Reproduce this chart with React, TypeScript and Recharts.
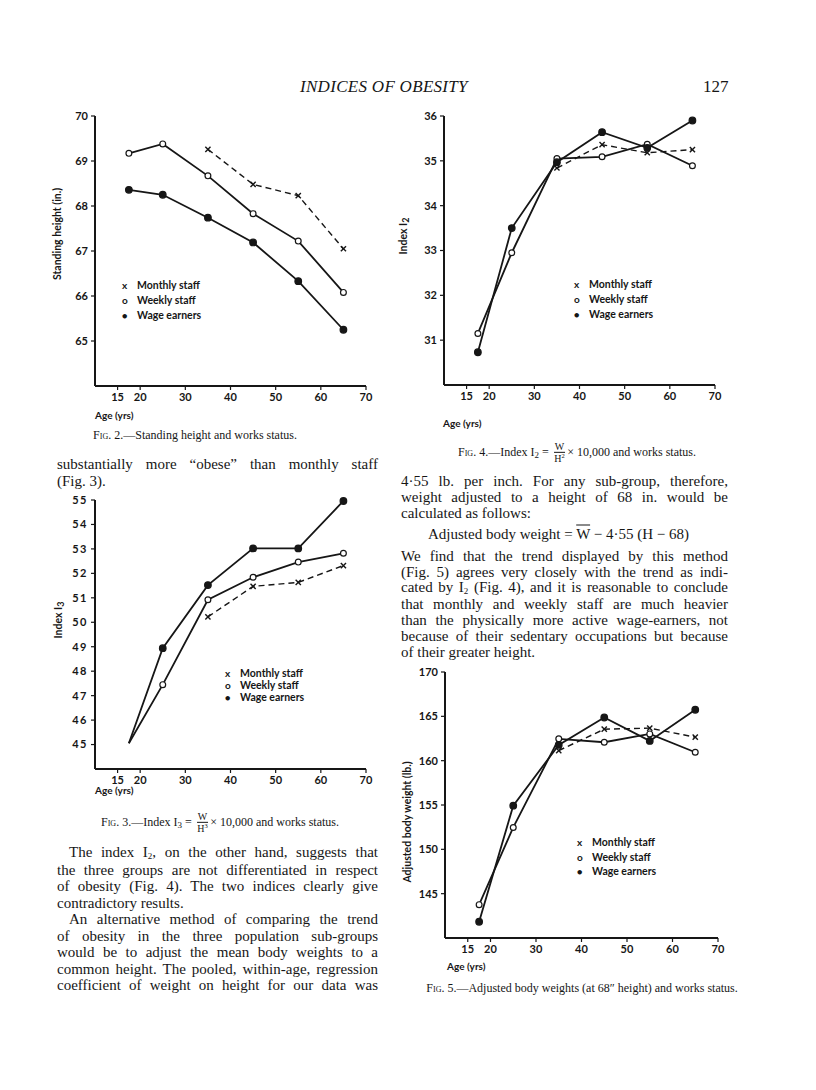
import React from 'react'
import { LineChart, Line, XAxis, YAxis } from 'recharts'

// ages (mid-points of age groups)
const ages = [17.5, 25, 35, 45, 55, 65]
const ageTicks = [15, 20, 30, 40, 50, 60, 70]

// Fig 2 – standing height (in.)
const heightMonthly = [null, null, 69.26, 68.48, 68.23, 67.05]
const heightWeekly = [69.17, 69.38, 68.67, 67.83, 67.22, 66.08]
const heightWage = [68.36, 68.25, 67.74, 67.19, 66.33, 65.25]
const heightTicks = [65, 66, 67, 68, 69, 70]

// Fig 3 – index I3
const i3Monthly = [null, null, 50.22, 51.47, 51.63, 52.32]
const i3Weekly = [45.05, 47.45, 50.92, 51.84, 52.46, 52.82]
const i3Wage = [45.05, 48.94, 51.52, 53.02, 53.02, 54.96]
const i3Ticks = [45, 46, 47, 48, 49, 50, 51, 52, 53, 54, 55]

// Fig 4 – index I2
const i2Monthly = [null, null, 34.84, 35.36, 35.18, 35.25]
const i2Weekly = [31.15, 32.95, 35.05, 35.09, 35.37, 34.89]
const i2Wage = [30.73, 33.5, 34.97, 35.64, 35.29, 35.9]
const i2Ticks = [31, 32, 33, 34, 35, 36]

// Fig 5 – adjusted body weight (lb.)
const wtMonthly = [null, null, 161.14, 163.55, 163.67, 162.65]
const wtWeekly = [143.76, 152.47, 162.46, 162.08, 163.02, 160.95]
const wtWage = [141.83, 154.92, 161.78, 164.87, 162.23, 165.74]
const wtTicks = [145, 150, 155, 160, 165, 170]

const INK = '#161616'
const SERIF = '"Liberation Serif", "DejaVu Serif", serif'
const SANS = 'Lato, "DejaVu Sans", sans-serif'
const BODY = 15

function rows(m: (number | null)[], w: number[], g: number[]) {
  return ages.map((age, i) => ({ age, monthly: m[i], weekly: w[i], wage: g[i] }))
}

const crossDot = (p: any) => {
  const { cx, cy, value, index } = p
  if (value == null || cx == null) return <g key={'x' + index} />
  return (
    <g key={'x' + index}>
      <line x1={cx - 2.6} y1={cy - 2.6} x2={cx + 2.6} y2={cy + 2.6} stroke={INK} strokeWidth={1.4} />
      <line x1={cx - 2.6} y1={cy + 2.6} x2={cx + 2.6} y2={cy - 2.6} stroke={INK} strokeWidth={1.4} />
    </g>
  )
}

function circleDot(filled: boolean, hideFirst: boolean) {
  return (p: any) => {
    const { cx, cy, index } = p
    if (cx == null || (hideFirst && index === 0)) return <g key={'c' + index} />
    return (
      <circle key={'c' + index} cx={cx} cy={cy} r={filled ? 3.3 : 2.9}
        fill={filled ? INK : '#fff'} stroke={INK} strokeWidth={1.2} />
    )
  }
}

interface FigProps {
  x0: number
  y0: number
  w: number
  h: number
  yDomain: [number, number]
  yTicks: number[]
  data: any[]
  hideFirst?: boolean
  spaced?: boolean
}

function Fig({ x0, y0, w, h, yDomain, yTicks, data, hideFirst = false, spaced = false }: FigProps) {
  const tick = { fontSize: 11, fill: INK, fontFamily: SANS, fontWeight: 700, letterSpacing: spaced ? 1.5 : 0 }
  return (
    <div style={{ position: 'absolute', left: x0 - 60, top: y0 - 10 }}>
      <LineChart width={w + 80} height={h + 40} data={data}
        margin={{ top: 10, right: 20, bottom: 0, left: 0 }}>
        <XAxis dataKey="age" type="number" domain={[10, 70]} ticks={ageTicks} height={30}
          axisLine={{ stroke: INK, strokeWidth: 2 }} tickLine={{ stroke: INK, strokeWidth: 1.2 }}
          tickSize={4} tickMargin={3} tick={{ ...tick, letterSpacing: 0 }} interval={0} />
        <YAxis type="number" domain={yDomain} ticks={yTicks} width={60} interval={0}
          axisLine={{ stroke: INK, strokeWidth: 2 }} tickLine={{ stroke: INK, strokeWidth: 1.2 }}
          tickSize={4} tickMargin={3} tick={tick} />
        <Line dataKey="monthly" stroke={INK} strokeWidth={1.4} strokeDasharray="6 4"
          dot={crossDot} isAnimationActive={false} connectNulls={false} />
        <Line dataKey="weekly" stroke={INK} strokeWidth={1.8}
          dot={circleDot(false, hideFirst)} isAnimationActive={false} />
        <Line dataKey="wage" stroke={INK} strokeWidth={1.8}
          dot={circleDot(true, hideFirst)} isAnimationActive={false} />
      </LineChart>
    </div>
  )
}

function At({ x, y, children, style }: { x: number; y: number; children: React.ReactNode; style?: React.CSSProperties }) {
  return (
    <div style={{ position: 'absolute', left: x, top: y, transform: 'translateY(-50%)', whiteSpace: 'nowrap', lineHeight: 1, ...style }}>
      {children}
    </div>
  )
}

function Legend({ x, y, gap = 15 }: { x: number; y: number; gap?: number }) {
  const items = [
    { mark: 'x', label: 'Monthly staff' },
    { mark: 'o', label: 'Weekly staff' },
    { mark: '●', label: 'Wage earners' },
  ]
  return (
    <>
      {items.map((it, i) => (
        <React.Fragment key={it.label}>
          <At x={x - 4} y={y + i * gap} style={{ fontFamily: SANS, fontSize: it.mark === '●' ? 9 : 10, fontWeight: 700, color: INK }}>{it.mark}</At>
          <At x={x + 11} y={y + i * gap} style={{ fontFamily: SANS, fontSize: 10.5, fontWeight: 700, color: INK }}>{it.label}</At>
        </React.Fragment>
      ))}
    </>
  )
}

function YLabel({ x, y, children }: { x: number; y: number; children: React.ReactNode }) {
  return (
    <div style={{ position: 'absolute', left: x, top: y, transform: 'translate(-50%, -50%) rotate(-90deg)', whiteSpace: 'nowrap', lineHeight: 1, fontFamily: SANS, fontSize: 10.5, fontWeight: 700, color: INK }}>
      {children}
    </div>
  )
}

const AgeLabel = ({ x, y }: { x: number; y: number }) => (
  <At x={x} y={y} style={{ fontFamily: SANS, fontSize: 10, fontWeight: 700, color: INK }}>Age (yrs)</At>
)

const Frac = ({ pow }: { pow: string }) => (
  <span style={{ display: 'inline-flex', flexDirection: 'column', alignItems: 'center', verticalAlign: 'middle', fontSize: 10, lineHeight: 1, margin: '0 2px' }}>
    <span style={{ borderBottom: `1px solid ${INK}`, padding: '0 1px' }}>W</span>
    <span>H<sup style={{ fontSize: 6.5 }}>{pow}</sup></span>
  </span>
)

const Caption = ({ x, y, fig, children }: { x: number; y: number; fig: string; children: React.ReactNode }) => (
  <At x={x} y={y} style={{ fontFamily: SERIF, fontSize: 12, color: INK, transform: 'translate(-50%, -50%)' }}>
    <span style={{ fontVariant: 'small-caps' }}>Fig.</span> {fig}.—{children}
  </At>
)

function Para({ x, w, lines }: { x: number; w: number; lines: { y: number; t: React.ReactNode; last?: boolean; indent?: number }[] }) {
  return (
    <>
      {lines.map((l, i) => (
        <div key={i} style={{
          position: 'absolute', left: x + (l.indent ?? 0), top: l.y, width: w - (l.indent ?? 0),
          transform: 'translateY(-50%)', fontFamily: SERIF, fontSize: BODY, lineHeight: 1, color: INK,
          textAlign: 'justify', textAlignLast: l.last ? 'left' : 'justify', whiteSpace: 'nowrap',
        }}>{l.t}</div>
      ))}
    </>
  )
}

const sub = (s: string) => <sub style={{ fontSize: 9, verticalAlign: -2 }}>{s}</sub>

export default function App() {
  return (
    <div style={{ position: 'absolute', left: 0, top: 0, width: 816, height: 1090, background: '#fff', overflow: 'hidden' }}>
      <At x={300} y={86} style={{ fontFamily: SERIF, fontStyle: 'italic', fontSize: 17, color: INK, letterSpacing: 0.3 }}>INDICES OF OBESITY</At>
      <At x={703} y={86} style={{ fontFamily: SERIF, fontSize: 17, color: INK }}>127</At>

      {/* Fig. 2 */}
      <Fig x0={95} y0={116} w={271} h={270} yDomain={[64, 70]} yTicks={heightTicks}
        data={rows(heightMonthly, heightWeekly, heightWage)} />
      <Legend x={126} y={285} />
      <YLabel x={57} y={234}>Standing height (in.)</YLabel>
      <AgeLabel x={95} y={415} />
      <Caption x={195} y={435} fig="2">Standing height and works status.</Caption>

      {/* Fig. 4 */}
      <Fig x0={444} y0={116} w={271} h={269} yDomain={[30, 36]} yTicks={i2Ticks}
        data={rows(i2Monthly, i2Weekly, i2Wage)} />
      <Legend x={578} y={284} />
      <YLabel x={404} y={236}>Index I{sub('2')}</YLabel>
      <AgeLabel x={443} y={423} />
      <Caption x={577} y={453} fig="4">Index I{sub('2')} = <Frac pow="2" />× 10,000 and works status.</Caption>

      {/* Fig. 3 */}
      <Fig x0={95} y0={500} w={271} h={269} yDomain={[44, 55]} yTicks={i3Ticks}
        data={rows(i3Monthly, i3Weekly, i3Wage)} hideFirst spaced />
      <Legend x={229} y={673} gap={12} />
      <YLabel x={59} y={620}>Index I{sub('3')}</YLabel>
      <AgeLabel x={95} y={790} />
      <Caption x={220} y={823} fig="3">Index I{sub('3')} = <Frac pow="3" />× 10,000 and works status.</Caption>

      {/* Fig. 5 */}
      <Fig x0={445} y0={672} w={273} h={266} yDomain={[140, 170]} yTicks={wtTicks}
        data={rows(wtMonthly, wtWeekly, wtWage)} />
      <Legend x={581} y={842} gap={14.5} />
      <YLabel x={407} y={822}>Adjusted body weight (lb.)</YLabel>
      <AgeLabel x={447} y={966} />
      <Caption x={582} y={988} fig="5">Adjusted body weights (at 68″ height) and works status.</Caption>

      {/* body text */}
      <Para x={57} w={321} lines={[
        { y: 464, t: 'substantially more “obese” than monthly staff' },
        { y: 481, t: '(Fig. 3).', last: true },
      ]} />
      <Para x={57} w={321} lines={[
        { y: 853, t: <>The index I{sub('2')}, on the other hand, suggests that</>, indent: 12 },
        { y: 869.5, t: 'the three groups are not differentiated in respect' },
        { y: 886, t: 'of obesity (Fig. 4). The two indices clearly give' },
        { y: 902.5, t: 'contradictory results.', last: true },
        { y: 919, t: 'An alternative method of comparing the trend', indent: 12 },
        { y: 935.5, t: 'of obesity in the three population sub-groups' },
        { y: 952, t: 'would be to adjust the mean body weights to a' },
        { y: 968.5, t: 'common height. The pooled, within-age, regression' },
        { y: 985, t: 'coefficient of weight on height for our data was' },
      ]} />
      <Para x={401} w={327} lines={[
        { y: 481, t: '4·55 lb. per inch. For any sub-group, therefore,' },
        { y: 497, t: 'weight adjusted to a height of 68 in. would be' },
        { y: 513, t: 'calculated as follows:', last: true },
        { y: 556, t: 'We find that the trend displayed by this method' },
        { y: 572, t: '(Fig. 5) agrees very closely with the trend as indi-' },
        { y: 588, t: <>cated by I{sub('2')} (Fig. 4), and it is reasonable to conclude</> },
        { y: 604, t: 'that monthly and weekly staff are much heavier' },
        { y: 620, t: 'than the physically more active wage-earners, not' },
        { y: 636, t: 'because of their sedentary occupations but because' },
        { y: 652, t: 'of their greater height.', last: true },
      ]} />
      <At x={428} y={534} style={{ fontFamily: SERIF, fontSize: BODY, color: INK }}>
        Adjusted body weight = <span style={{ textDecoration: 'overline' }}>W</span> − 4·55 (H − 68)
      </At>
    </div>
  )
}
